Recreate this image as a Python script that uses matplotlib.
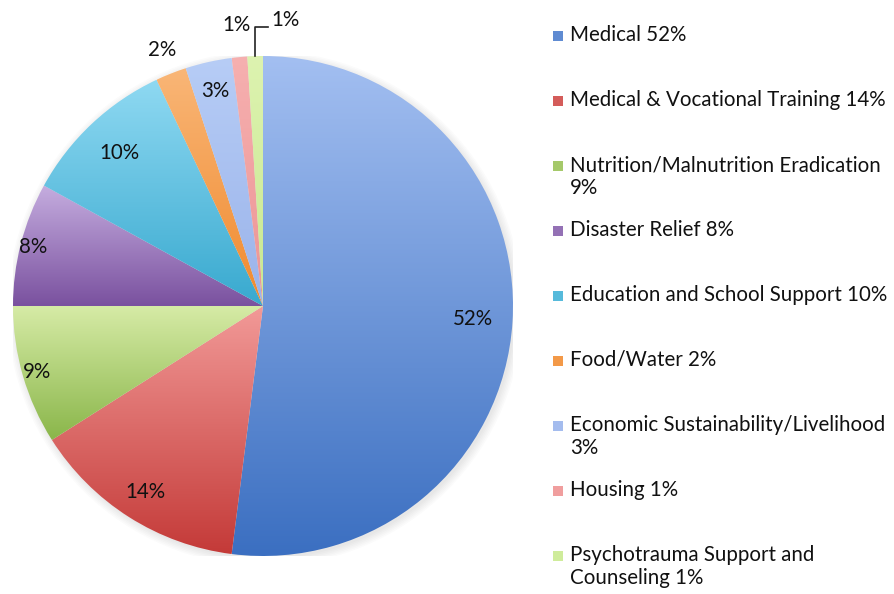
import textwrap
import numpy as np
import matplotlib
matplotlib.use('Agg')
import matplotlib.pyplot as plt
from matplotlib.colors import LinearSegmentedColormap, to_rgb
from matplotlib.patches import Rectangle, Circle

# data
names = ['Medical', 'Medical & Vocational Training', 'Nutrition/Malnutrition Eradication',
         'Disaster Relief', 'Education and School Support', 'Food/Water',
         'Economic Sustainability/Livelihood', 'Housing', 'Psychotrauma Support and Counseling']
values = [52, 14, 9, 8, 10, 2, 3, 1, 1]

# gradient colours per slice (top, bottom)
tops = ['#a3bff1', '#f29a98', '#d6eba6', '#c5addf', '#8fd9f2', '#f9b677', '#b7cdf6', '#f6b0b0', '#ddf3b0']
bottoms = ['#3b6fc1', '#c43a38', '#8ab64a', '#7a519f', '#38a9cf', '#f08a2e', '#9ab3ea', '#ec9494', '#c8e890']
label_dist = [0.84, 0.88, 0.94, 0.95, 0.84, 1.10, 0.88, 1.13, None]

plt.rcParams['font.family'] = ['Lato', 'DejaVu Sans']
fs = 14.8
txt_col = '#111111'

fig = plt.figure(figsize=(8.95, 5.94), dpi=100)
ax = fig.add_axes([13 / 895, 1 - 556 / 594, 500 / 895, 500 / 594])

# soft shadow
for k in range(6):
    ax.add_patch(Circle((0.008, -0.010), 1.0 + 0.006 * k, color='#808080', alpha=0.03, lw=0, zorder=0))

wedges, _ = ax.pie(values, startangle=90, counterclock=False, radius=1,
                   wedgeprops=dict(linewidth=0))

grad = np.linspace(0, 1, 256).reshape(-1, 1)
for w, c1, c2 in zip(wedges, tops, bottoms):
    w.set_facecolor('none')
    bb = w.get_path().get_extents(w.get_transform() - ax.transData)
    cmap = LinearSegmentedColormap.from_list('g', [c1, c2])
    im = ax.imshow(grad, cmap=cmap, aspect='auto', origin='upper',
                   extent=[bb.x0, bb.x1, bb.y0, bb.y1], zorder=1, interpolation='bilinear')
    im.set_clip_path(w)

# percentage labels
for w, v, d in zip(wedges, values, label_dist):
    if d is None:
        continue
    ang = np.deg2rad((w.theta1 + w.theta2) / 2)
    ax.text(d * np.cos(ang), d * np.sin(ang), f'{v}%', ha='center', va='center',
            fontsize=fs, color=txt_col, zorder=3)

# last slice label with leader line
w = wedges[-1]
ang = np.deg2rad((w.theta1 + w.theta2) / 2)
x0 = np.cos(ang)
ax.plot([x0, x0, x0 + 0.05], [1.0, 1.116, 1.116], color='#222222', lw=1.2, zorder=3, clip_on=False)
ax.text(x0 + 0.065, 1.144, f'{values[-1]}%', ha='left', va='center', fontsize=fs, color=txt_col)

ax.set_xlim(-1, 1)
ax.set_ylim(-1, 1)
ax.set_aspect('equal')
ax.axis('off')

# legend
W, H = 895, 594
for i, (n, v, c1, c2) in enumerate(zip(names, values, tops, bottoms)):
    yc = 36 + i * 65
    mid = tuple(0.35 * a + 0.65 * b for a, b in zip(to_rgb(c1), to_rgb(c2)))
    fig.patches.append(Rectangle((553 / W, 1 - (yc + 5) / H), 10 / W, 10 / H,
                                 transform=fig.transFigure, facecolor=mid, edgecolor='none'))
    fig.text(570 / W, 1 - (yc - 11) / H, textwrap.fill(f'{n} {v}%', 34), ha='left', va='top',
             fontsize=fs, color=txt_col, linespacing=1.2)

fig.savefig('out.png', dpi=100)
